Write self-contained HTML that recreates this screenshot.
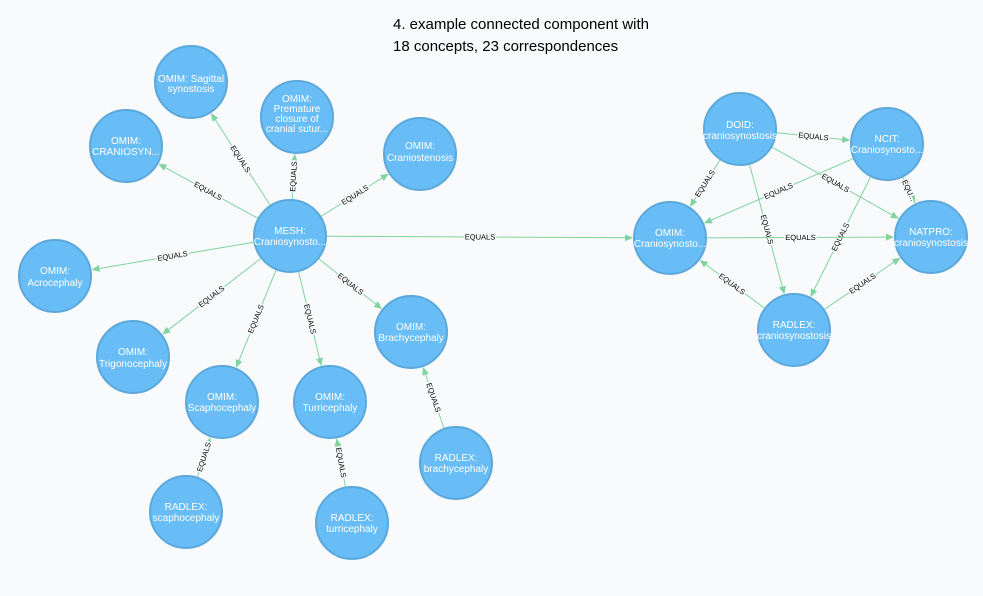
<!DOCTYPE html>
<html><head><meta charset="utf-8"><style>
html,body{margin:0;padding:0;background:#f9fafb;}
svg{display:block;font-family:"Liberation Sans",Arial,sans-serif;}
.n circle{fill:#68bdf6;stroke:#5ca8db;stroke-width:2;}
.n text{fill:#fff;font-size:10px;text-anchor:middle;}
.el{font-size:7.5px;fill:#000;text-anchor:middle;dominant-baseline:central;paint-order:stroke;stroke:#f9fafb;stroke-width:3px;}
.e{stroke:#7fd4a0;stroke-width:1;fill:none;}
</style></head><body>
<svg id="s" width="983" height="596" viewBox="0 0 983 596">
<defs><marker id="a" markerWidth="8" markerHeight="8" refX="7" refY="4" orient="auto" markerUnits="userSpaceOnUse"><path d="M0,0.5 L8,4 L0,7.5 Z" fill="#7fd4a0"/></marker></defs>
<text x="393" y="29" font-size="15" fill="#000" font-family="Liberation Sans, sans-serif">4. example connected component with</text>
<text x="393" y="51" font-size="15" fill="#000" font-family="Liberation Sans, sans-serif">18 concepts, 23 correspondences</text>
<g id="edges"></g>
<g class="n"><circle cx="191" cy="82" r="36"/><text x="191" y="82">OMIM: Sagittal</text><text x="191" y="92">synostosis</text></g>
<g class="n"><circle cx="297" cy="117" r="36"/><text x="297" y="102">OMIM:</text><text x="297" y="112">Premature</text><text x="297" y="122">closure of</text><text x="297" y="132">cranial sutur...</text></g>
<g class="n"><circle cx="126" cy="146" r="36"/><text x="126" y="144">OMIM:</text><text x="126" y="155">CRANIOSYN...</text></g>
<g class="n"><circle cx="420" cy="154" r="36"/><text x="420" y="149">OMIM:</text><text x="420" y="161">Craniostenosis</text></g>
<g class="n"><circle cx="290" cy="236" r="36"/><text x="290" y="234">MESH:</text><text x="290" y="245">Craniosynosto...</text></g>
<g class="n"><circle cx="55" cy="276" r="36"/><text x="55" y="274">OMIM:</text><text x="55" y="286">Acrocephaly</text></g>
<g class="n"><circle cx="133" cy="357" r="36"/><text x="133" y="355">OMIM:</text><text x="133" y="367">Trigonocephaly</text></g>
<g class="n"><circle cx="222" cy="402" r="36"/><text x="222" y="400">OMIM:</text><text x="222" y="411">Scaphocephaly</text></g>
<g class="n"><circle cx="330" cy="402" r="36"/><text x="330" y="400">OMIM:</text><text x="330" y="411">Turricephaly</text></g>
<g class="n"><circle cx="411" cy="332" r="36"/><text x="411" y="330">OMIM:</text><text x="411" y="341">Brachycephaly</text></g>
<g class="n"><circle cx="456" cy="463" r="36"/><text x="456" y="461">RADLEX:</text><text x="456" y="472">brachycephaly</text></g>
<g class="n"><circle cx="186" cy="512" r="36"/><text x="186" y="510">RADLEX:</text><text x="186" y="521">scaphocephaly</text></g>
<g class="n"><circle cx="352" cy="523" r="36"/><text x="352" y="521">RADLEX:</text><text x="352" y="532">turricephaly</text></g>
<g class="n"><circle cx="740" cy="129" r="36"/><text x="740" y="128">DOID:</text><text x="740" y="139">craniosynostosis</text></g>
<g class="n"><circle cx="887" cy="144" r="36"/><text x="887" y="142">NCIT:</text><text x="887" y="153">Craniosynosto...</text></g>
<g class="n"><circle cx="670" cy="238" r="36"/><text x="670" y="236">OMIM:</text><text x="670" y="247">Craniosynosto...</text></g>
<g class="n"><circle cx="931" cy="237" r="36"/><text x="931" y="235">NATPRO:</text><text x="931" y="246">craniosynostosis</text></g>
<g class="n"><circle cx="794" cy="330" r="36"/><text x="794" y="328">RADLEX:</text><text x="794" y="339">craniosynostosis</text></g>
</svg>
<script>
var P={sag:[191,82],pre:[297,117],cra:[126,146],cst:[420,154],mesh:[290,236],acr:[55,276],tri:[133,357],sca:[222,402],tur:[330,402],bra:[411,332],rb:[456,463],rs:[186,512],rt:[352,523],doid:[740,129],ncit:[887,144],om:[670,238],nat:[931,237],rc:[794,330]};
var E=[["mesh","sag"],["mesh","pre"],["mesh","cra"],["mesh","cst"],["mesh","acr"],["mesh","tri"],["mesh","sca"],["mesh","tur"],["mesh","bra"],["mesh","om"],["rb","bra"],["rs","sca"],["rt","tur"],["doid","ncit"],["doid","om"],["doid","rc"],["doid","nat"],["ncit","om"],["ncit","rc"],["ncit","nat"],["om","nat"],["rc","om"],["rc","nat"]];
var g=document.getElementById("edges"),ns="http://www.w3.org/2000/svg",R=37;
E.forEach(function(e){var a=P[e[0]],b=P[e[1]],dx=b[0]-a[0],dy=b[1]-a[1],L=Math.hypot(dx,dy),ux=dx/L,uy=dy/L;
var l=document.createElementNS(ns,"line");l.setAttribute("x1",a[0]+ux*R);l.setAttribute("y1",a[1]+uy*R);l.setAttribute("x2",b[0]-ux*(R+1));l.setAttribute("y2",b[1]-uy*(R+1));l.setAttribute("class","e");l.setAttribute("marker-end","url(#a)");g.appendChild(l);
var mx=(a[0]+b[0])/2,my=(a[1]+b[1])/2,ang=Math.atan2(dy,dx)*180/Math.PI;if(ang>90)ang-=180;if(ang<-90)ang+=180;
var t=document.createElementNS(ns,"text");t.setAttribute("class","el");t.setAttribute("x",mx);t.setAttribute("y",my);t.setAttribute("transform","rotate("+ang+" "+mx+" "+my+")");t.textContent=(e[0]=="ncit"&&e[1]=="nat")?"EQU...":"EQUALS";g.appendChild(t);});
</script>
</body></html>
